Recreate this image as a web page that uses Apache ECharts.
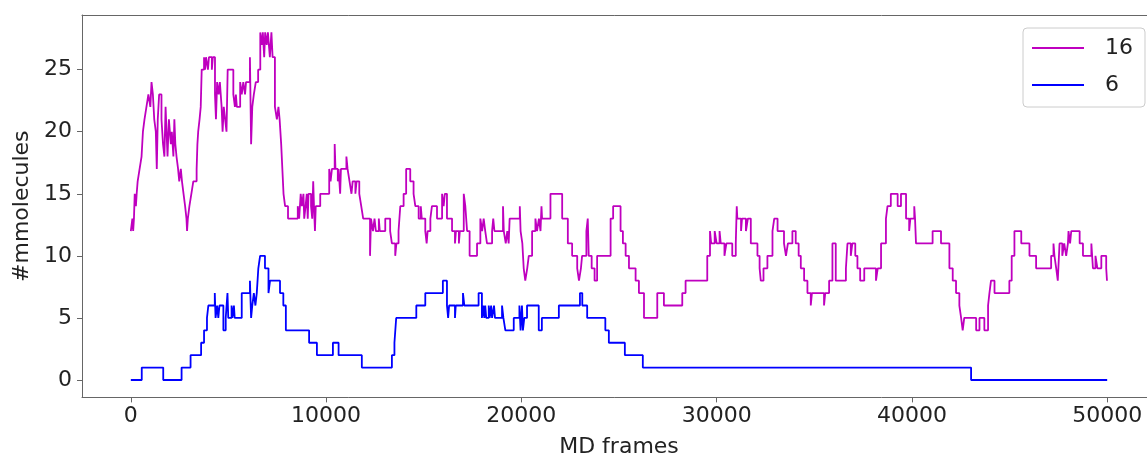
<!DOCTYPE html>
<html>
<head>
<meta charset="utf-8">
<title>#mmolecules vs MD frames</title>
<script src="https://cdn.jsdelivr.net/npm/echarts@6/dist/echarts.min.js"></script>
<style>
  html, body { margin: 0; padding: 0; background: #fff; }
  #chart { width: 1147px; height: 456px; }
</style>
</head>
<body>
<div id="chart"></div>
<script>
// step change points: value holds from frame[i] until frame[i+1]
const frames16 = [
  0, 80, 120, 160, 200, 260, 300, 350, 450, 550, 620, 700, 800, 900, 1000, 1060, 1130, 1200, 1280, 1330,
  1380, 1450, 1570, 1650, 1720, 1780, 1830, 1880, 1950, 2050, 2100, 2180, 2230, 2280, 2340, 2420, 2480, 2560, 2620, 2700,
  2780, 2850, 2880, 2920, 3000, 3100, 3200, 3370, 3410, 3450, 3520, 3580, 3630, 3750, 3800, 3850, 3950, 4000, 4150, 4200,
  4310, 4360, 4420, 4500, 4560, 4650, 4700, 4760, 4830, 4900, 4960, 5250, 5330, 5380, 5430, 5600, 5680, 5760, 5850, 5900,
  6100, 6160, 6220, 6300, 6400, 6520, 6630, 6700, 6760, 6830, 6880, 6960, 7020, 7120, 7200, 7260, 7380, 7480, 7560, 7620,
  7700, 7760, 7820, 7900, 8050, 8550, 8620, 8700, 8760, 8840, 8880, 8950, 9010, 9060, 9100, 9230, 9290, 9340, 9380, 9430,
  9470, 9700, 10160, 10230, 10300, 10440, 10480, 10600, 10640, 10720, 10760, 11040, 11100, 11200, 11300, 11360, 11500, 11560, 11700, 11800,
  11900, 12250, 12300, 12400, 12480, 12550, 12700, 12750, 13030, 13280, 13370, 13540, 13600, 13710, 13800, 13970, 14100, 14310, 14480, 14570,
  14740, 14850, 14900, 15080, 15150, 15200, 15340, 15420, 15680, 15940, 16020, 16080, 16190, 16450, 16600, 16650, 16800, 16850, 17050, 17130,
  17220, 17350, 17730, 17900, 17990, 18070, 18150, 18240, 18500, 18560, 18620, 19060, 19100, 19200, 19280, 19350, 19400, 19920, 19960, 20050,
  20120, 20200, 20300, 20380, 20550, 20720, 20800, 20900, 20980, 21030, 21060, 21490, 22090, 22380, 22600, 22860, 22950, 23050, 23110, 23330,
  23400, 23450, 23600, 23750, 23880, 24570, 24700, 25080, 25200, 25340, 25510, 25850, 26020, 26280, 26960, 27300, 28240, 28410, 29520, 29660,
  29720, 29900, 30000, 30150, 30210, 30400, 30500, 30800, 30980, 31030, 31060, 31250, 31300, 31500, 31600, 31750, 32090, 32200, 32260, 32400,
  32600, 32860, 32950, 33120, 33450, 33550, 33650, 33880, 34050, 34200, 34310, 34480, 34650, 34820, 34880, 35500, 35560, 35760, 35930, 36100,
  36620, 36700, 36870, 36950, 37100, 37210, 37350, 37560, 38160, 38250, 38420, 38670, 38750, 38920, 39270, 39440, 39700, 39860, 39920, 40120,
  40160, 40210, 41060, 41490, 41920, 42090, 42260, 42430, 42520, 42600, 42680, 43290, 43460, 43710, 43900, 43970, 44050, 44230, 44990, 45110,
  45250, 45600, 46020, 46360, 47130, 47250, 47300, 47390, 47470, 47560, 47700, 47800, 47900, 47990, 48020, 48100, 48160, 48590, 48760, 49190,
  49270, 49400, 49500, 49700, 49950, 49990, 50000
]
const counts16 = [
  12, 13, 12, 13, 15, 14, 15, 16, 17, 18, 20, 21, 22, 23, 22, 24, 23, 21, 20, 17,
  21, 23, 21, 19, 18, 22, 20, 18, 21, 19, 20, 18, 21, 19, 18, 17, 16, 17, 16, 15,
  14, 13, 12, 13, 14, 15, 16, 17, 19, 20, 21, 22, 25, 26, 25, 26, 25, 26, 25, 26,
  23, 21, 24, 23, 24, 22, 20, 22, 21, 20, 25, 23, 22, 23, 22, 24, 23, 24, 23, 24,
  26, 19, 22, 23, 24, 25, 28, 27, 28, 26, 28, 27, 28, 26, 28, 26, 22, 21, 22, 21,
  19, 17, 15, 14, 13, 14, 13, 15, 14, 15, 13, 14, 15, 13, 15, 14, 13, 16, 14, 12,
  14, 15, 17, 16, 17, 19, 17, 16, 17, 15, 17, 18, 17, 16, 15, 16, 15, 16, 15, 14,
  13, 10, 13, 12, 13, 12, 13, 12, 13, 12, 11, 10, 11, 12, 14, 15, 17, 16, 15, 14,
  13, 14, 13, 12, 11, 12, 13, 14, 13, 15, 14, 15, 13, 12, 11, 12, 11, 12, 15, 14,
  12, 10, 11, 13, 12, 13, 12, 11, 12, 13, 12, 14, 12, 11, 12, 11, 13, 14, 12, 11,
  9, 8, 9, 10, 12, 13, 12, 13, 12, 14, 13, 15, 13, 11, 10, 9, 8, 9, 10, 12,
  13, 10, 9, 8, 10, 13, 14, 12, 11, 10, 9, 8, 7, 5, 7, 6, 7, 8, 10, 12,
  11, 12, 11, 12, 11, 10, 11, 10, 11, 14, 13, 12, 13, 12, 13, 11, 10, 9, 8, 9,
  10, 12, 13, 12, 11, 10, 11, 12, 11, 10, 9, 8, 7, 6, 7, 6, 7, 8, 11, 8,
  9, 11, 10, 11, 10, 9, 8, 9, 8, 9, 11, 13, 14, 15, 14, 15, 13, 12, 13, 14,
  13, 11, 12, 11, 9, 8, 7, 6, 5, 4, 5, 4, 5, 4, 6, 7, 8, 7, 8, 10,
  12, 11, 10, 9, 10, 11, 10, 9, 8, 11, 10, 11, 10, 11, 12, 11, 12, 11, 10, 11,
  9, 10, 9, 10, 9, 8, 8
]

const frames6 = [
  0, 560, 1660, 2600, 3060, 3600, 3750, 3900, 3970, 4300, 4340, 4420, 4480, 4540, 4740, 4860, 4950, 4990, 5160, 5200,
  5280, 5320, 5680, 6100, 6160, 6220, 6300, 6380, 6450, 6530, 6620, 6870, 7050, 7130, 7640, 7810, 7940, 9130, 9530, 10350,
  10640, 11830, 13370, 13500, 13590, 14620, 15080, 15980, 16190, 16250, 16300, 16600, 16640, 17010, 17080, 17810, 17980, 18050, 18100, 18150,
  18200, 18330, 18380, 18450, 18500, 18600, 18650, 19010, 19080, 19180, 19610, 19900, 19960, 20030, 20080, 20150, 20290, 20890, 21050, 21920,
  23000, 23120, 23370, 24300, 24480, 25300, 26220, 43030, 50000
]
const counts6 = [
  0, 1, 0, 1, 2, 3, 4, 5, 6, 7, 5, 6, 5, 6, 4, 5, 7, 5, 6, 5,
  6, 5, 7, 8, 5, 6, 7, 6, 7, 9, 10, 9, 7, 8, 7, 6, 4, 3, 2, 3,
  2, 1, 2, 3, 5, 6, 7, 8, 6, 5, 6, 5, 6, 7, 6, 7, 5, 6, 5, 6,
  5, 6, 5, 6, 5, 6, 5, 6, 5, 4, 5, 6, 4, 6, 4, 5, 6, 4, 5, 6,
  7, 6, 5, 4, 3, 2, 1, 0, 0
]

const xTicks = [0, 10000, 20000, 30000, 40000, 50000]
const yTicks = [0, 5, 10, 15, 20, 25]

const font = 'DejaVu Sans'
const axisColor = '#666'
const textColor = '#222'

function zip(xs, ys) {
  return xs.map((x, i) => [x, ys[i]])
}

const chart = echarts.init(document.getElementById('chart'), null, { renderer: 'canvas' })

chart.setOption({
  animation: false,
  backgroundColor: '#fff',
  grid: {
    left: 82,
    top: 15,
    width: 1074,
    height: 382.4,
    outerBoundsMode: 'none',
    containLabel: false,
    show: false
  },
  legend: {
    orient: 'vertical',
    left: 1023,
    top: 28,
    padding: [8, 12, 10, 9],
    itemWidth: 52,
    itemHeight: 2,
    itemGap: 13,
    icon: 'rect',
    borderColor: '#ccc',
    borderWidth: 1,
    borderRadius: 4,
    backgroundColor: 'rgba(255,255,255,0.8)',
    textStyle: {
      fontFamily: font,
      fontSize: 22,
      color: textColor,
      lineHeight: 24,
      padding: [0, 0, 0, 16]
    },
    data: ['16', '6']
  },
  xAxis: [
    {
      type: 'value',
      position: 'bottom',
      min: -2500,
      max: 52500,
      name: 'MD frames',
      nameLocation: 'middle',
      nameGap: 39,
      nameTextStyle: { fontFamily: font, fontSize: 22, color: textColor },
      axisLine: { show: true, onZero: false, lineStyle: { color: axisColor, width: 1 } },
      axisTick: { show: true, length: 5, customValues: xTicks, lineStyle: { color: axisColor } },
      axisLabel: {
        margin: 8,
        customValues: xTicks,
        formatter: v => String(v),
        fontFamily: font,
        fontSize: 22,
        color: textColor
      },
      splitLine: { show: false }
    },
    {
      // top spine only
      type: 'value',
      position: 'top',
      min: -2500,
      max: 52500,
      axisLine: { show: true, onZero: false, lineStyle: { color: axisColor, width: 1 } },
      axisTick: { show: false },
      axisLabel: { show: false },
      splitLine: { show: false }
    }
  ],
  yAxis: {
    type: 'value',
    min: -1.4,
    max: 29.4,
    name: '#mmolecules',
    nameLocation: 'middle',
    nameGap: 45,
    nameTextStyle: { fontFamily: font, fontSize: 22, color: textColor },
    axisLine: { show: true, onZero: false, lineStyle: { color: axisColor, width: 1 } },
    axisTick: { show: true, length: 5, customValues: yTicks, lineStyle: { color: axisColor } },
    axisLabel: {
      margin: 10,
      customValues: yTicks,
      formatter: v => String(v),
      fontFamily: font,
      fontSize: 22,
      color: textColor
    },
    splitLine: { show: false }
  },
  series: [
    {
      name: '16',
      type: 'line',
      step: 'end',
      showSymbol: false,
      color: '#bf00bf',
      lineStyle: { width: 1.8 },
      data: zip(frames16, counts16)
    },
    {
      name: '6',
      type: 'line',
      step: 'end',
      showSymbol: false,
      color: '#0000ff',
      lineStyle: { width: 1.8 },
      data: zip(frames6, counts6)
    }
  ]
})
</script>
</body>
</html>
